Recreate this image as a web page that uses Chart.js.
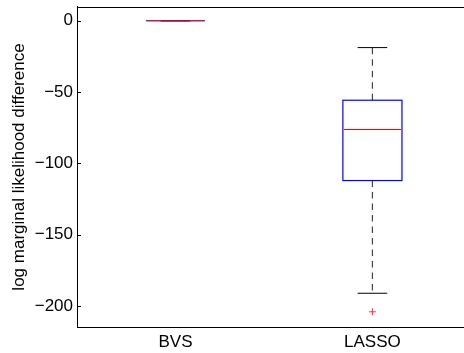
<!DOCTYPE html>
<html>
<head>
<meta charset="utf-8">
<script src="https://cdn.jsdelivr.net/npm/chart.js@4.4.1/dist/chart.umd.min.js"></script>
<style>
  html, body { margin: 0; padding: 0; background: #fff; overflow: hidden; }
  #wrap { width: 464px; height: 353px; }
</style>
</head>
<body>
<div id="wrap"><canvas id="box"></canvas></div>
<script>
// box plot data
const categories = ['BVS', 'LASSO'];
const whiskerHigh = [0, -18.8];
const q3 = [0, -55.7];
const median = [0, -76.2];
const q1 = [0, -112];
const whiskerLow = [0, -191];
const outlierCat = [2];
const outlierVal = [-204];
const yTicks = [0, -50, -100, -150, -200];

const FONT = { family: '"Liberation Sans", Arial, Helvetica, sans-serif', size: 17 };
const BOX_W = 0.3;
const CAP_W = 0.15;

function minus(v) {
    return v < 0 ? '\u2212' + Math.abs(v) : String(v);
}

// drop the auto label padding so the plot box sits where the figure has it
function noPad(scale) {
    scale.paddingTop = 0;
    scale.paddingBottom = 0;
    scale.paddingLeft = 0;
    scale.paddingRight = 0;
}

const matlabBox = {
    id: 'matlabBox',
    afterDatasetsDraw: function (chart) {
        const ctx = chart.ctx;
        const x = chart.scales.x;
        const y = chart.scales.y;
        ctx.save();
        categories.forEach(function (c, i) {
            const pos = i + 1;
            const cx = x.getPixelForValue(pos);
            const bl = x.getPixelForValue(pos - BOX_W / 2);
            const br = x.getPixelForValue(pos + BOX_W / 2);
            const kl = x.getPixelForValue(pos - CAP_W / 2);
            const kr = x.getPixelForValue(pos + CAP_W / 2);

            // whiskers
            ctx.strokeStyle = '#444';
            ctx.lineWidth = 1.2;
            ctx.setLineDash([6.5, 5]);
            ctx.beginPath();
            ctx.moveTo(cx, y.getPixelForValue(q3[i]));
            ctx.lineTo(cx, y.getPixelForValue(whiskerHigh[i]));
            ctx.moveTo(cx, y.getPixelForValue(q1[i]));
            ctx.lineTo(cx, y.getPixelForValue(whiskerLow[i]));
            ctx.stroke();
            ctx.setLineDash([]);

            // caps
            ctx.strokeStyle = '#000';
            ctx.lineWidth = 1;
            ctx.beginPath();
            ctx.moveTo(kl, y.getPixelForValue(whiskerHigh[i]));
            ctx.lineTo(kr, y.getPixelForValue(whiskerHigh[i]));
            ctx.moveTo(kl, y.getPixelForValue(whiskerLow[i]));
            ctx.lineTo(kr, y.getPixelForValue(whiskerLow[i]));
            ctx.stroke();

            // box
            const top = y.getPixelForValue(q3[i]);
            const bot = y.getPixelForValue(q1[i]);
            ctx.strokeStyle = '#0000ff';
            ctx.lineWidth = 1.2;
            ctx.strokeRect(bl, top, br - bl, bot - top);

            // median
            ctx.strokeStyle = '#ff0000';
            ctx.lineWidth = 1.2;
            ctx.beginPath();
            ctx.moveTo(bl + 1, y.getPixelForValue(median[i]));
            ctx.lineTo(br - 1, y.getPixelForValue(median[i]));
            ctx.stroke();
        });
        ctx.restore();
    },
    afterDraw: function (chart) {
        const ctx = chart.ctx;
        const a = chart.chartArea;
        const y = chart.scales.y;
        ctx.save();
        ctx.strokeStyle = '#000';
        ctx.lineWidth = 1;
        // top frame line
        ctx.beginPath();
        ctx.moveTo(a.left, Math.round(a.top) + 0.5);
        ctx.lineTo(a.right, Math.round(a.top) + 0.5);
        ctx.stroke();
        // inward y ticks
        ctx.beginPath();
        yTicks.forEach(function (v) {
            const py = Math.round(y.getPixelForValue(v)) + 0.5;
            ctx.moveTo(a.left, py);
            ctx.lineTo(a.left + 4, py);
        });
        ctx.stroke();
        ctx.restore();
    }
};

new Chart(document.getElementById('box'), {
    type: 'scatter',
    data: {
        datasets: [{
            label: 'outliers',
            data: outlierCat.map(function (c, i) { return { x: c, y: outlierVal[i] }; }),
            pointStyle: 'cross',
            radius: 3.5,
            borderColor: '#ff3030',
            borderWidth: 1,
            backgroundColor: '#ff3030'
        }]
    },
    options: {
        responsive: true,
        maintainAspectRatio: false,
        animation: false,
        layout: { autoPadding: false, padding: { top: 6.5, right: 0, bottom: 0, left: 0 } },
        plugins: { legend: { display: false }, tooltip: { enabled: false } },
        scales: {
            x: {
                type: 'linear',
                min: 0.5,
                max: 2.465,
                grid: { display: false, drawTicks: false },
                border: { display: true, color: '#000', width: 1 },
                afterBuildTicks: function (scale) {
                    scale.ticks = categories.map(function (c, i) { return { value: i + 1 }; });
                },
                afterFit: function (scale) { scale.height = 25.5; noPad(scale); },
                ticks: {
                    padding: 5,
                    color: '#000',
                    font: FONT,
                    maxRotation: 0,
                    autoSkip: false,
                    callback: function (v) { return categories[v - 1]; }
                }
            },
            y: {
                min: -215,
                max: 10,
                grid: { display: false, drawTicks: false },
                border: { display: true, color: '#000', width: 1 },
                afterBuildTicks: function (scale) {
                    scale.ticks = yTicks.map(function (v) { return { value: v }; });
                },
                afterFit: function (scale) { scale.width = 77; noPad(scale); },
                ticks: {
                    padding: 4,
                    color: '#000',
                    font: FONT,
                    callback: function (v) { return minus(v); }
                },
                title: {
                    display: true,
                    text: 'log marginal likelihood difference',
                    color: '#000',
                    font: FONT,
                    padding: { top: 9, bottom: 0 }
                }
            }
        }
    },
    plugins: [matlabBox]
});
</script>
</body>
</html>
